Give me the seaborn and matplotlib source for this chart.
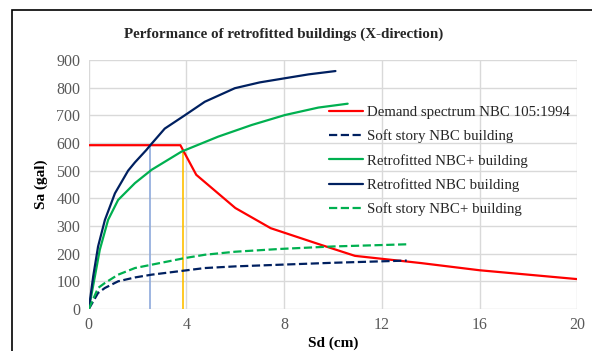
import numpy as np
import pandas as pd
import matplotlib
matplotlib.use("Agg")
import matplotlib.pyplot as plt
import seaborn as sns
from matplotlib.patches import Rectangle

# Capacity and demand curves (Sd in cm, Sa in gal)
demand_sd = [0, 3.75, 4.4, 6.0, 7.45, 9.5, 10.9, 13.6, 16, 20]
demand_sa = [592, 592, 485, 365, 292, 232, 192, 166, 140, 108]

soft_nbc_sd = [0, 0.38, 0.66, 1.2, 1.89, 2.57, 3.93, 4.75, 6, 7.83, 10, 13.02]
soft_nbc_sa = [0, 58, 76, 100, 114, 124, 139, 148, 154, 160, 167, 175]

retro_nbcp_sd = [0, 0.25, 0.45, 0.79, 1.2, 1.89, 2.57, 2.98, 3.8, 5.3, 6.67, 8.03, 9.4, 10.6]
retro_nbcp_sa = [0, 118, 214, 322, 394, 455, 503, 525, 569, 623, 665, 701, 728, 742]

retro_nbc_sd = [0, 0.18, 0.38, 0.66, 1.07, 1.61, 1.89, 2.36, 2.5, 3.11, 3.93, 4.75, 5.98, 7.0, 8.03, 9.0, 10.1]
retro_nbc_sa = [0, 118, 226, 322, 418, 500, 530, 575, 590, 652, 700, 749, 798, 819, 834, 848, 860]

soft_nbcp_sd = [0, 0.38, 0.66, 1.2, 1.89, 2.57, 3.93, 4.75, 6, 7.83, 10, 13.1]
soft_nbcp_sa = [0, 76, 94, 124, 148, 160, 184, 196, 207, 217, 226, 234]

# Performance points (Sd, Sa)
perf_nbc = (2.5, 590)
perf_nbcp = (3.85, 568)

x_ticks = [0, 4, 8, 12, 16, 20]
y_ticks = list(range(0, 1000, 100))

sns.set_theme(style="white")
plt.rcParams["font.family"] = ["Liberation Serif", "DejaVu Serif"]

fig = plt.figure(figsize=(5.92, 3.51), dpi=100)
ax = fig.add_axes([0.150, 0.1197, 0.825, 0.7094])

# frame around the figure
fig.patches.append(Rectangle((12 / 592, -0.1), 1.2, 1 - 10 / 351 + 0.1,
                             transform=fig.transFigure, fill=False,
                             edgecolor="black", linewidth=1.2))

navy = "#002060"
green = "#00B050"
red = "#FF0000"

# performance point markers
ax.vlines(perf_nbc[0], 0, perf_nbc[1], color="#8EA9DB", linewidth=1.2, zorder=1)
ax.vlines(perf_nbcp[0], 0, perf_nbcp[1], color="#FFC000", linewidth=1.2, zorder=1)

series = [
    ("Demand spectrum NBC 105:1994", demand_sd, demand_sa, red, "-"),
    ("Soft story NBC building", soft_nbc_sd, soft_nbc_sa, navy, "--"),
    ("Retrofitted NBC+ building", retro_nbcp_sd, retro_nbcp_sa, green, "-"),
    ("Retrofitted NBC building", retro_nbc_sd, retro_nbc_sa, navy, "-"),
    ("Soft story NBC+ building", soft_nbcp_sd, soft_nbcp_sa, green, "--"),
]

for label, xs, ys, color, ls in series:
    df = pd.DataFrame({"Sd": xs, "Sa": ys})
    line_kw = dict(dashes=(5.5, 3)) if ls == "--" else {}
    sns.lineplot(data=df, x="Sd", y="Sa", ax=ax, color=color, linewidth=1.6,
                 linestyle=ls, label=label, sort=False, **line_kw)

ax.set_xlim(0, 20)
ax.set_ylim(0, 900)
ax.set_xticks(x_ticks)
ax.set_yticks(y_ticks)
ax.grid(True, color="#D9D9D9", linewidth=1.0)
ax.set_axisbelow(True)
for s in ax.spines.values():
    s.set_visible(False)
ax.tick_params(axis="both", labelsize=11.5, colors="#595959", length=0, pad=6)

ax.set_xlabel("Sd (cm)", fontsize=11, fontweight="bold", color="black", labelpad=2)
ax.set_ylabel("Sa (gal)", fontsize=11, fontweight="bold", color="black", labelpad=6)
fig.text(284 / 592, 1 - 34 / 351, "Performance of retrofitted buildings (X-direction)",
         ha="center", va="center", fontsize=10.8, fontweight="bold")

ax.legend(loc="upper left", bbox_to_anchor=(0.48, 0.84), frameon=False,
          fontsize=10.7, handlelength=2.3, handletextpad=0.25, labelspacing=0.7,
          borderaxespad=0)

fig.savefig("out.png", dpi=100)
